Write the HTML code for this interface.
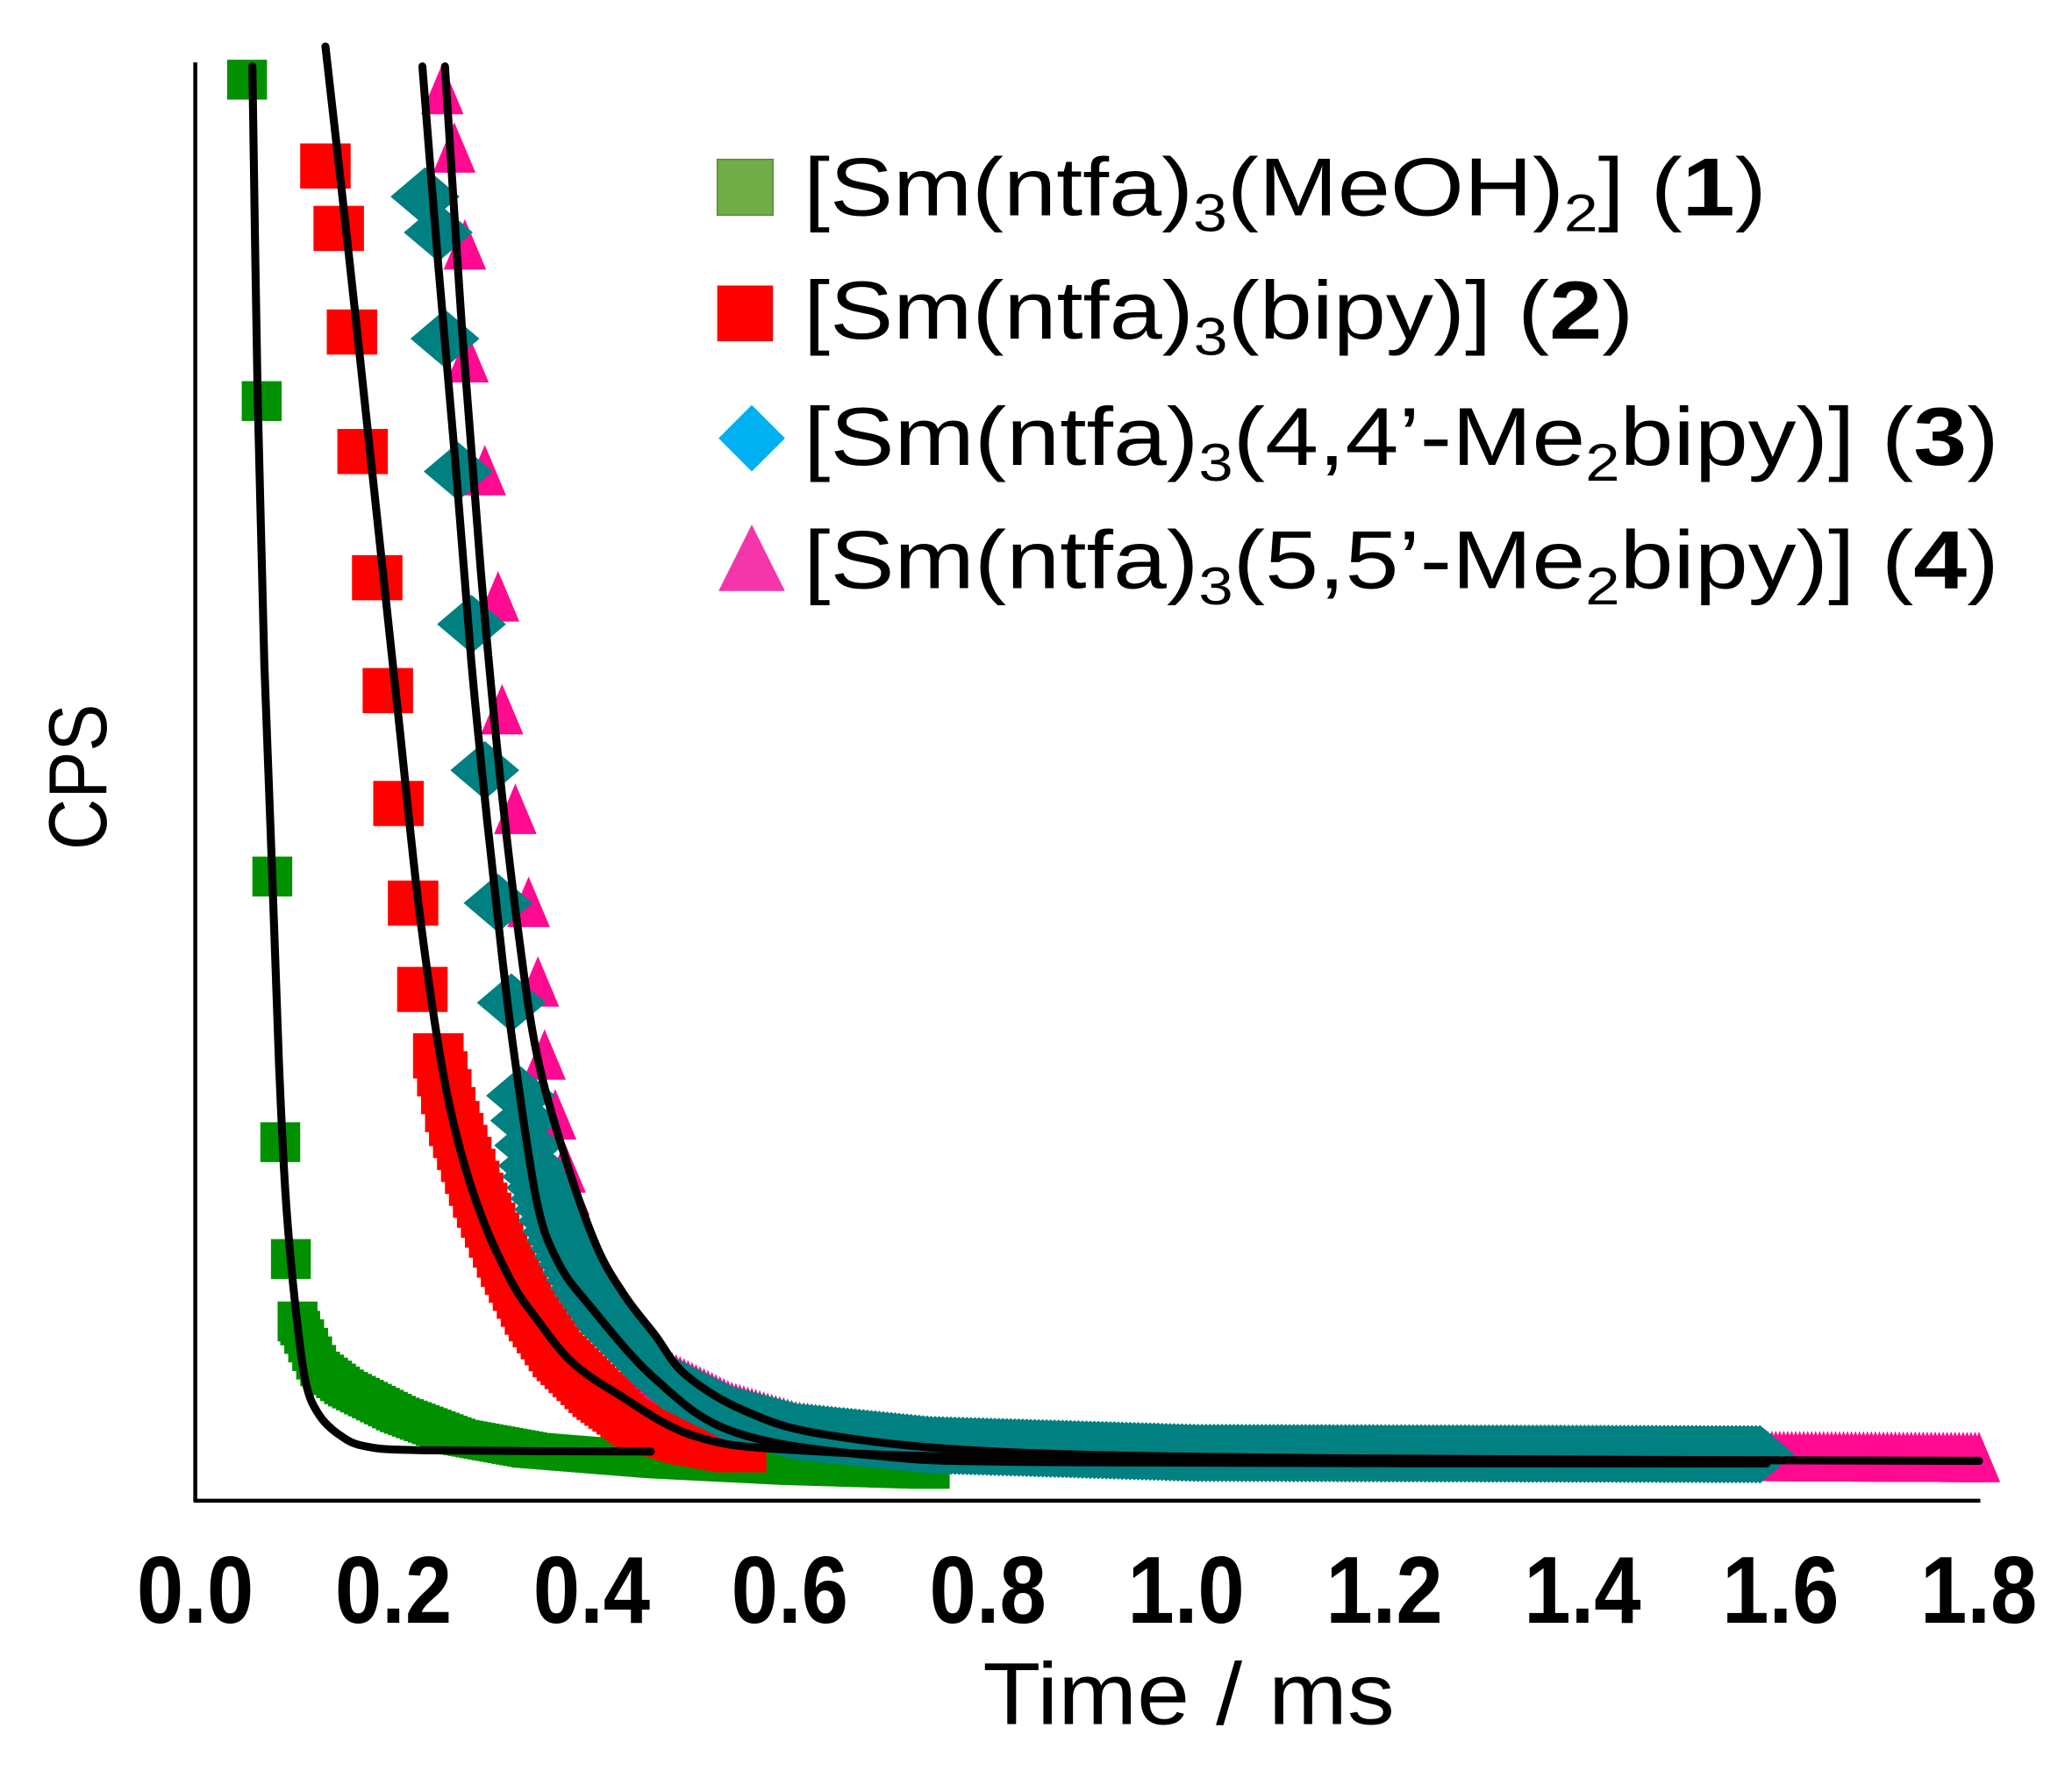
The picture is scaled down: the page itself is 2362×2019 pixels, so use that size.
<!DOCTYPE html>
<html><head><meta charset="utf-8"><style>
html,body{margin:0;padding:0;background:#fff;}
svg{display:block;}
</style></head><body>
<svg id="s" width="2362" height="2019" viewBox="0 0 1560 1333.5" xmlns="http://www.w3.org/2000/svg" font-family="'Liberation Sans', sans-serif">
<rect width="1560" height="1334" fill="#fff"/>
<g id="data"></g>
<g id="fits" fill="none" stroke="#000" stroke-width="6" stroke-linejoin="round" stroke-linecap="round"></g>
<line x1="147" y1="47" x2="147" y2="1131" stroke="#000" stroke-width="3"/>
<line x1="146" y1="1130" x2="1491" y2="1130" stroke="#000" stroke-width="3"/>
<g font-weight="bold" font-size="72" text-anchor="middle">
<text transform="translate(147,1222) scale(0.88,1)">0.0</text>
<text transform="translate(296.2,1222) scale(0.88,1)">0.2</text>
<text transform="translate(445.4,1222) scale(0.88,1)">0.4</text>
<text transform="translate(594.6,1222) scale(0.88,1)">0.6</text>
<text transform="translate(743.8,1222) scale(0.88,1)">0.8</text>
<text transform="translate(893,1222) scale(0.88,1)">1.0</text>
<text transform="translate(1042.2,1222) scale(0.88,1)">1.2</text>
<text transform="translate(1191.4,1222) scale(0.88,1)">1.4</text>
<text transform="translate(1340.6,1222) scale(0.88,1)">1.6</text>
<text transform="translate(1489.8,1222) scale(0.88,1)">1.8</text>
</g>
<text x="740" y="1298" font-size="66" textLength="310" lengthAdjust="spacingAndGlyphs">Time / ms</text>
<text transform="translate(80,640) rotate(-90)" font-size="62" textLength="110" lengthAdjust="spacingAndGlyphs">CPS</text>
<!-- legend -->
<rect x="540" y="120" width="42" height="42" fill="#70ad47" stroke="#5a8a38" stroke-width="1"/>
<rect x="540" y="215" width="42" height="42" fill="#ff0000"/>
<polygon points="566,305 591,330 566,355 541,330" fill="#00b0f0"/>
<polygon points="566,395 591,445 541,445" fill="#f535aa"/>
<g font-size="62">
<text x="605" y="162" textLength="725" lengthAdjust="spacingAndGlyphs">[Sm(ntfa)<tspan font-size="40" dy="12">3</tspan><tspan dy="-12">(MeOH)</tspan><tspan font-size="40" dy="12">2</tspan><tspan dy="-12">] (</tspan><tspan font-weight="bold">1</tspan>)</text>
<text x="605" y="255" textLength="625" lengthAdjust="spacingAndGlyphs">[Sm(ntfa)<tspan font-size="40" dy="12">3</tspan><tspan dy="-12">(bipy)] (</tspan><tspan font-weight="bold">2</tspan>)</text>
<text x="605" y="350" textLength="900" lengthAdjust="spacingAndGlyphs">[Sm(ntfa)<tspan font-size="40" dy="12">3</tspan><tspan dy="-12">(4,4’-Me</tspan><tspan font-size="40" dy="12">2</tspan><tspan dy="-12">bipy)] (</tspan><tspan font-weight="bold">3</tspan>)</text>
<text x="605" y="443" textLength="900" lengthAdjust="spacingAndGlyphs">[Sm(ntfa)<tspan font-size="40" dy="12">3</tspan><tspan dy="-12">(5,5’-Me</tspan><tspan font-size="40" dy="12">2</tspan><tspan dy="-12">bipy)] (</tspan><tspan font-weight="bold">4</tspan>)</text>
</g>
</svg>
<script>
var NS="http://www.w3.org/2000/svg";
var data=document.getElementById('data'),fits=document.getElementById('fits');
function el(t,a,p){var e=document.createElementNS(NS,t);for(var k in a)e.setAttribute(k,a[k]);p.appendChild(e);return e;}
function interp(P,x){if(x<=P[0][0])return P[0][1];for(var i=1;i<P.length;i++){if(x<=P[i][0]){var a=P[i-1],b=P[i];return a[1]+(b[1]-a[1])*(x-a[0])/(b[0]-a[0]);}}return P[P.length-1][1];}
function sq(x,y,w,h,c){el('rect',{x:x-w/2,y:y-h/2,width:w,height:h,fill:c},data);}
function dia(x,y,c){el('polygon',{points:(x)+','+(y-22)+' '+(x+26)+','+y+' '+x+','+(y+22)+' '+(x-26)+','+y,fill:c},data);}
function tri(x,y,c){el('polygon',{points:x+','+(y-20)+' '+(x+16)+','+(y+18)+' '+(x-16)+','+(y+18),fill:c},data);}
function tail(P,x0,x1,st,f){for(var x=x0;x<=x1;x+=st)f(x,interp(P,x));}
var G='#009000';
[[186,60],[197,302],[205,660],[211,860],[219,948],[224,995]].forEach(function(p){sq(p[0],p[1],30,30,G);});
tail([[226,1000],[240,1030],[260,1045],[300,1065],[345,1082],[400,1092],[500,1100],[600,1105],[700,1108]],226,700,3,function(x,y){sq(x,y,30,26,G);});
var R='#ff0000';
[[245,125],[255,172],[265,250],[273,340],[284,435],[292,520],[300,605],[311,680],[318,745],[330,795]].forEach(function(p){sq(p[0],p[1],38,34,R);});
tail([[330,795],[340,840],[360,900],[380,950],[400,990],[420,1020],[450,1050],[480,1072],[520,1085],[560,1092]],330,560,3,function(x,y){sq(x,y,38,34,R);});
var P='#ff0a90';
[[333,68],[342,112],[350,185],[352,270],[365,355],[375,450],[378,535],[388,610],[398,680],[405,740],[410,795],[418,840],[425,880]].forEach(function(p){tri(p[0],p[1],P);});
tail([[425,880],[432,920],[450,960],[470,1000],[500,1035],[550,1060],[600,1075],[700,1088],[900,1095],[1490,1098]],425,1490,3,function(x,y){tri(x,y,P);});
var T='#008080';
[[320,148],[330,175],[335,255],[345,355],[355,470],[365,580],[375,680],[385,755],[392,825]].forEach(function(p){dia(p[0],p[1],T);});
tail([[392,825],[400,875],[420,930],[440,970],[460,1000],[500,1040],[550,1065],[600,1078],[700,1088],[900,1094],[1325,1095]],392,1325,3,function(x,y){dia(x,y,T);});
function cr(P){var d='M'+P[0][0]+','+P[0][1];for(var i=0;i<P.length-1;i++){var p0=P[i-1]||P[i],p1=P[i],p2=P[i+1],p3=P[i+2]||p2;
var c1x=p1[0]+(p2[0]-p0[0])/6,c1y=p1[1]+(p2[1]-p0[1])/6,c2x=p2[0]-(p3[0]-p1[0])/6,c2y=p2[1]-(p3[1]-p1[1])/6;
d+=' C'+c1x.toFixed(1)+','+c1y.toFixed(1)+' '+c2x.toFixed(1)+','+c2y.toFixed(1)+' '+p2[0]+','+p2[1];}
el('path',{d:d},fits);}
cr([[190,50],[194,300],[199,500],[205,660],[210,800],[215,900],[222,980],[230,1040],[240,1065],[255,1080],[275,1089],[320,1092],[490,1093]]);
cr([[245,35],[258,150],[270,260],[285,400],[300,540],[315,680],[331,793],[345,860],[363,917],[385,965],[404,993],[430,1025],[464,1049],[522,1081],[600,1092],[800,1098],[1330,1100]]);
cr([[318,50],[330,200],[343,350],[355,500],[367,620],[378,720],[387,793],[404,904],[420,950],[443,982],[493,1038],[552,1078],[658,1096],[800,1101],[1330,1102]]);
cr([[335,50],[348,250],[362,430],[376,580],[390,700],[404,793],[425,870],[449,938],[470,975],[493,1005],[516,1035],[560,1062],[620,1080],[750,1093],[1000,1098],[1490,1100]]);
</script>
</body></html>
